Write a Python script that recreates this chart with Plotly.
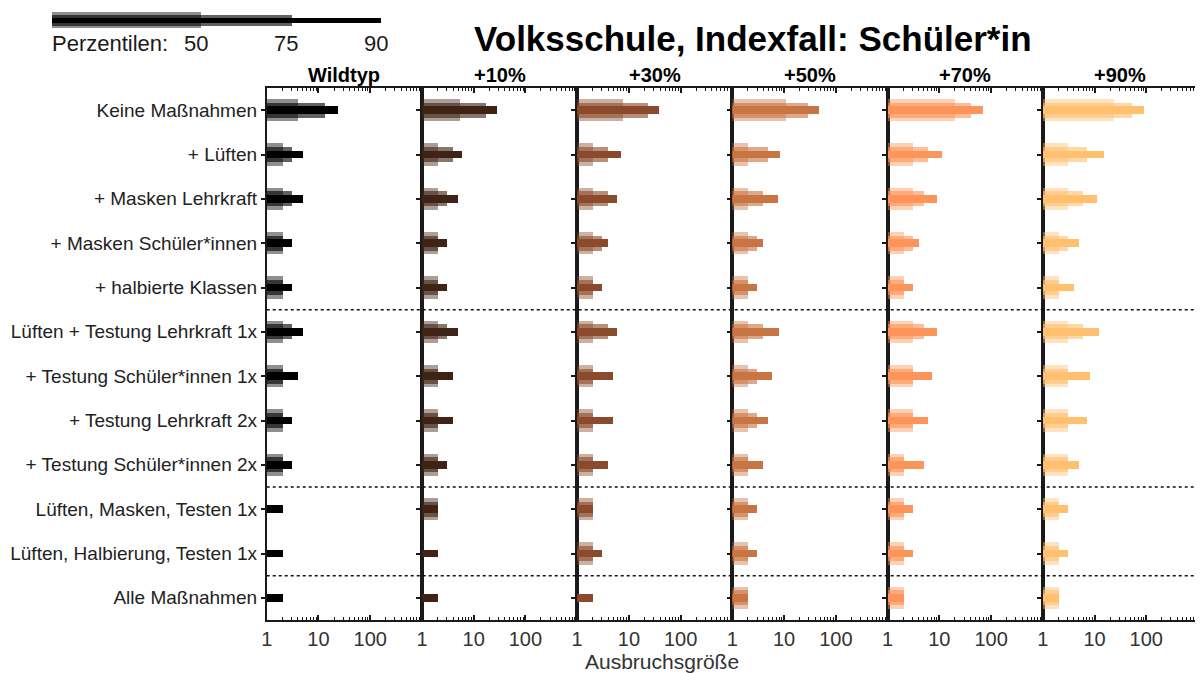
import plotly.graph_objects as go

# Page body has an 8px margin: the figure occupies x 8..1203, y 8..673 of the window
OFF = 8
FW, FH = 1203 - OFF, 673 - OFF


def px(x):
    return (x - OFF) / FW


def py(y):
    return (673 - y) / FH


ROWS = [
    "Keine Maßnahmen",
    "+ Lüften",
    "+ Masken Lehrkraft",
    "+ Masken Schüler*innen",
    "+ halbierte Klassen",
    "Lüften + Testung Lehrkraft 1x",
    "+ Testung Schüler*innen 1x",
    "+ Testung Lehrkraft 2x",
    "+ Testung Schüler*innen 2x",
    "Lüften, Masken, Testen 1x",
    "Lüften, Halbierung, Testen 1x",
    "Alle Maßnahmen",
]

VARIANTS = ["Wildtyp", "+10%", "+30%", "+50%", "+70%", "+90%"]
COLORS = ["#000000", "#3f2314", "#8b4a2b", "#c97443", "#fd9459", "#ffc070"]

# Percentile values (outbreak size) per variant, rows in ROWS order
P50 = [
    [3.9, 2, 2, 2, 2, 2, 2, 2, 2, 1, 1, 1],
    [5.4, 2, 2, 2, 2, 2, 2, 2, 2, 2, 1, 1],
    [7.6, 2, 2, 2, 2, 2, 2, 2, 2, 2, 2, 1],
    [11.3, 2, 2, 2, 2, 2, 2, 2, 2, 2, 2, 2],
    [19.7, 3, 3, 2, 2, 3, 3, 3, 2, 2, 2, 2],
    [24, 3, 3, 2, 2, 3, 3, 3, 3, 2, 2, 2],
]
P75 = [
    [13.5, 3, 3, 2, 2, 3, 2, 2, 2, 1, 1, 1],
    [17.5, 4, 3, 2, 2, 3, 2, 2, 2, 2, 1, 1],
    [23.5, 4, 4, 3, 2, 4, 2, 2, 2, 2, 2, 1],
    [29, 5, 4, 3, 2, 4, 3, 3, 2, 2, 2, 2],
    [41, 6, 5, 3, 2, 5, 3, 3, 2, 2, 2, 2],
    [52, 7, 6, 3, 2, 6, 3, 3, 3, 2, 2, 2],
]
P90 = [
    [24, 5, 5, 3, 3, 5, 4, 3, 3, 2, 2, 2],
    [28, 6, 5, 3, 3, 5, 4, 4, 3, 2, 2, 2],
    [39, 7, 6, 4, 3, 6, 5, 5, 4, 2, 3, 2],
    [47, 8.5, 7.6, 4, 3, 8, 6, 5, 4, 3, 3, 2],
    [68, 11, 9, 4, 3, 9, 7, 6, 5, 3, 3, 2],
    [88, 15, 11, 5, 4, 12, 8, 7, 5, 3, 3, 2],
]

SEPARATORS = [4.5, 8.5, 10.5]
X_TICKS = [1, 10, 100]
X_TICK_TEXT = ["1", "10", "100"]
MINOR = [m * d for d in (1, 10, 100) for m in range(2, 10)]

LEGEND_POS = [1.361, 2.183, 3.0]
LEGEND_TEXT = ["50", "75", "90"]

FONT = "Liberation Sans, Arial, sans-serif"
ALPHA = [0.44, 0.62, 1.0]
BAR_W = [0.5, 0.34, 0.18]
LEG_W = [0.7, 0.5, 0.23]


def rgba(hexc, a):
    h = hexc.lstrip("#")
    r, g, b = int(h[0:2], 16), int(h[2:4], 16), int(h[4:6], 16)
    return f"rgba({r},{g},{b},{a})"


fig = go.Figure()

LEFT, PW = 262, 156
TOP, BOT = 88, 620
ydom = [py(BOT), py(TOP)]
yidx = list(range(len(ROWS)))

for i, var in enumerate(VARIANTS):
    n = i + 1
    xa = "x" if n == 1 else f"x{n}"
    ya = "y" if n == 1 else f"y{n}"
    for k, vals in enumerate([P50[i], P75[i], P90[i]]):
        fig.add_trace(go.Bar(
            x=vals, y=yidx, orientation="h",
            width=BAR_W[k], marker=dict(color=rgba(COLORS[i], ALPHA[k]), line=dict(width=0)),
            xaxis=xa, yaxis=ya, showlegend=False, hoverinfo="x+y",
        ))
    x0 = px(LEFT + PW * i)
    x1 = px(LEFT + PW * (i + 1))
    fig.layout[f"xaxis{'' if n == 1 else n}"] = dict(
        domain=[x0, x1], type="log", range=[0, 3], anchor=ya,
        tickvals=X_TICKS, ticktext=X_TICK_TEXT, ticks="inside", ticklen=5, tickwidth=1.5,
        tickcolor="#1a1a1a", mirror="allticks", showline=True, linecolor="#1a1a1a", linewidth=1.7,
        showgrid=False, zeroline=False,
        tickfont=dict(family=FONT, size=20, color="#333333"),
        minor=dict(tickvals=MINOR, ticks="inside", ticklen=3, tickwidth=1, tickcolor="#1a1a1a", showgrid=False),
    )
    fig.layout[f"yaxis{'' if n == 1 else n}"] = dict(
        domain=ydom, range=[len(ROWS) - 0.5, -0.5], anchor=xa,
        tickvals=yidx, ticktext=ROWS, showticklabels=(n == 1),
        ticks="outside", ticklen=4, tickwidth=2, tickcolor="#1a1a1a",
        showline=True, mirror=True, linecolor="#1a1a1a", linewidth=1.7,
        showgrid=False, zeroline=False,
        tickfont=dict(family=FONT, size=19, color="#222222"),
    )
    fig.add_annotation(
        text=f"<b>{var}</b>", x=(x0 + x1) / 2, y=py(75), xref="paper", yref="paper",
        showarrow=False, font=dict(family=FONT, size=20, color="#000000"),
        xanchor="center", yanchor="middle",
    )

# dashed separators
for s in SEPARATORS:
    fig.add_shape(type="line", xref="paper", yref="y", x0=px(LEFT), x1=px(LEFT + 6 * PW),
                  y0=s, y1=s, line=dict(color="#111111", width=1.5, dash="dot"))

# percentile legend
LX0, LX1 = 46, 377
for k in range(3):
    fig.add_trace(go.Bar(
        x=[LEGEND_POS[k]], y=[0], orientation="h", width=LEG_W[k],
        marker=dict(color=rgba("#000000", ALPHA[k]), line=dict(width=0)),
        xaxis="x7", yaxis="y7", showlegend=False, hoverinfo="skip",
    ))
fig.layout["xaxis7"] = dict(domain=[px(LX0), px(LX1)], range=[0, 3], visible=False, anchor="y7")
fig.layout["yaxis7"] = dict(domain=[py(31.2), py(8.5)], range=[-0.5, 0.5], visible=False, anchor="x7")

fig.add_annotation(text="Perzentilen:", x=px(44), y=py(43), xref="paper", yref="paper",
                   showarrow=False, xanchor="left", yanchor="middle",
                   font=dict(family=FONT, size=22, color="#1a1a1a"))
for pos, txt in zip(LEGEND_POS, LEGEND_TEXT):
    fig.add_annotation(text=txt, x=pos, y=py(43), xref="x7", yref="paper", xshift=-5,
                       showarrow=False, xanchor="center", yanchor="middle",
                       font=dict(family=FONT, size=22, color="#1a1a1a"))

# title and axis title
fig.add_annotation(text="<b>Volksschule, Indexfall: Schüler*in</b>", x=px(751), y=py(38),
                   xref="paper", yref="paper", showarrow=False, xanchor="center", yanchor="middle",
                   font=dict(family=FONT, size=35, color="#000000"))
fig.add_annotation(text="Ausbruchsgröße", x=px(659), y=py(661),
                   xref="paper", yref="paper", showarrow=False, xanchor="center", yanchor="middle",
                   font=dict(family=FONT, size=21, color="#333333"))

fig.update_layout(
    width=FW, height=FH, margin=dict(l=0, r=0, t=0, b=0),
    barmode="overlay", bargap=0, plot_bgcolor="white", paper_bgcolor="white",
    font=dict(family=FONT),
)

fig.write_html("out.html")
